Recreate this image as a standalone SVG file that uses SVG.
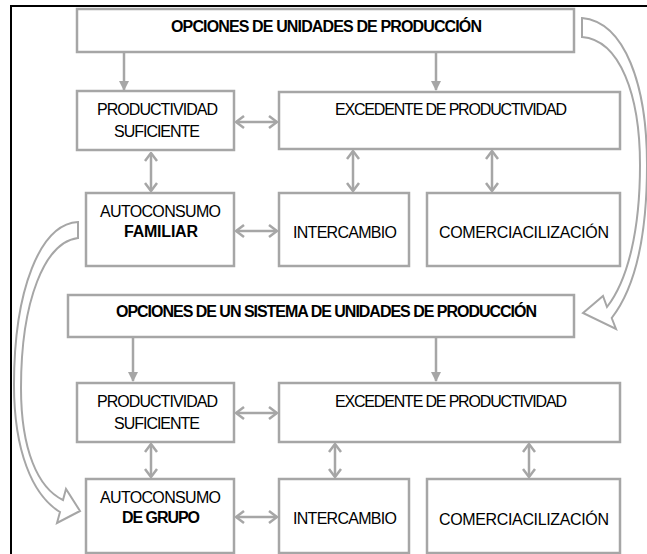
<svg xmlns="http://www.w3.org/2000/svg" width="647" height="554" viewBox="0 0 647 554">
<style>
.box{fill:#fff;stroke:#a6a6a6;stroke-width:2.5}
.t{font-family:"Liberation Sans",Arial,sans-serif;font-size:16px;fill:#000}
.b{font-weight:bold}
.c{stroke:#a6a6a6;stroke-width:2.5;fill:none}
.big{fill:#fff;stroke:#a6a6a6;stroke-width:2;stroke-linejoin:miter}
</style>
<defs>
<marker id="tri" viewBox="0 0 10 10" refX="9" refY="5" markerWidth="10" markerHeight="10" markerUnits="userSpaceOnUse" orient="auto">
<path d="M0,0 L10,5 L0,10 z" fill="#a6a6a6"/>
</marker>
<marker id="chev" viewBox="0 0 10 14" refX="9" refY="7" markerWidth="10" markerHeight="14" markerUnits="userSpaceOnUse" orient="auto-start-reverse">
<path d="M1,1 L9,7 L1,13" fill="none" stroke="#a6a6a6" stroke-width="2.5"/>
</marker>
</defs>
<rect width="647" height="554" fill="#fff"/>
<g id="frame">
<path d="M11,554 L11,6 L647,6" fill="none" stroke="#000" stroke-width="2"/>
</g>
<g id="connectors">
<line class="c" x1="124" y1="53" x2="124" y2="90" marker-end="url(#tri)"/>
<line class="c" x1="436" y1="53" x2="436" y2="90" marker-end="url(#tri)"/>
<line class="c" x1="236" y1="122" x2="277" y2="122" marker-start="url(#chev)" marker-end="url(#chev)"/>
<line class="c" x1="151" y1="153" x2="151" y2="191" marker-start="url(#chev)" marker-end="url(#chev)"/>
<line class="c" x1="353" y1="151" x2="353" y2="191" marker-start="url(#chev)" marker-end="url(#chev)"/>
<line class="c" x1="492" y1="151" x2="492" y2="191" marker-start="url(#chev)" marker-end="url(#chev)"/>
<line class="c" x1="236" y1="231" x2="277" y2="231" marker-start="url(#chev)" marker-end="url(#chev)"/>
<line class="c" x1="133" y1="338" x2="133" y2="381" marker-end="url(#tri)"/>
<line class="c" x1="436" y1="338" x2="436" y2="381" marker-end="url(#tri)"/>
<line class="c" x1="236" y1="413" x2="277" y2="413" marker-start="url(#chev)" marker-end="url(#chev)"/>
<line class="c" x1="151" y1="444" x2="151" y2="477" marker-start="url(#chev)" marker-end="url(#chev)"/>
<line class="c" x1="335" y1="444" x2="335" y2="477" marker-start="url(#chev)" marker-end="url(#chev)"/>
<line class="c" x1="529" y1="444" x2="529" y2="477" marker-start="url(#chev)" marker-end="url(#chev)"/>
<line class="c" x1="236" y1="517" x2="277" y2="517" marker-start="url(#chev)" marker-end="url(#chev)"/>
<path class="big" d="M582,18 C625,22 647,85 647,165 C647,235 635,288 611.7,318 L616,329 L583,313 L603,296 L607,307 C628,280 640,230 640,165 C640,95 620,40 582,37 Z"/>
<path class="big" d="M78,222 C40,224 14,290 14,385 C14,450 32,495 60,512 L57,523 L80,511 L66,489 L63,500 C38,488 21,450 21,388 C21,300 45,242 78,238 Z"/>
</g>
<g id="n1">
<rect class="box" x="77" y="9" width="497" height="43"/>
<text class="t b" x="171" y="32" textLength="311">OPCIONES DE UNIDADES DE PRODUCCIÓN</text>
</g>
<g id="n2">
<rect class="box" x="77" y="91" width="157" height="59"/>
<text class="t" x="97" y="115" textLength="121">PRODUCTIVIDAD</text>
<text class="t" x="114" y="137" textLength="86">SUFICIENTE</text>
</g>
<g id="n3">
<rect class="box" x="279" y="92" width="341" height="57"/>
<text class="t" x="335" y="115" textLength="232">EXCEDENTE DE PRODUCTIVIDAD</text>
</g>
<g id="n4">
<rect class="box" x="86" y="193" width="148" height="73"/>
<text class="t" x="100" y="217" textLength="121">AUTOCONSUMO</text>
<text class="t b" x="124" y="237" textLength="74">FAMILIAR</text>
</g>
<g id="n5">
<rect class="box" x="279" y="193" width="130" height="73"/>
<text class="t" x="293" y="238" textLength="104">INTERCAMBIO</text>
</g>
<g id="n6">
<rect class="box" x="427" y="193" width="193" height="73"/>
<text class="t" x="439" y="238" textLength="170">COMERCIACILIZACIÓN</text>
</g>
<g id="n7">
<rect class="box" x="68" y="295" width="506" height="42"/>
<text class="t b" x="116" y="317" textLength="421">OPCIONES DE UN SISTEMA DE UNIDADES DE PRODUCCIÓN</text>
</g>
<g id="n8">
<rect class="box" x="77" y="383" width="157" height="59"/>
<text class="t" x="97" y="407" textLength="121">PRODUCTIVIDAD</text>
<text class="t" x="114" y="429" textLength="86">SUFICIENTE</text>
</g>
<g id="n9">
<rect class="box" x="279" y="383" width="341" height="59"/>
<text class="t" x="335" y="407" textLength="232">EXCEDENTE DE PRODUCTIVIDAD</text>
</g>
<g id="n10">
<rect class="box" x="86" y="479" width="148" height="74"/>
<text class="t" x="100" y="503" textLength="121">AUTOCONSUMO</text>
<text class="t b" x="122" y="523" textLength="78">DE GRUPO</text>
</g>
<g id="n11">
<rect class="box" x="279" y="479" width="130" height="74"/>
<text class="t" x="293" y="524" textLength="104">INTERCAMBIO</text>
</g>
<g id="n12">
<rect class="box" x="427" y="479" width="193" height="74"/>
<text class="t" x="439" y="525" textLength="170">COMERCIACILIZACIÓN</text>
</g>
</svg>
